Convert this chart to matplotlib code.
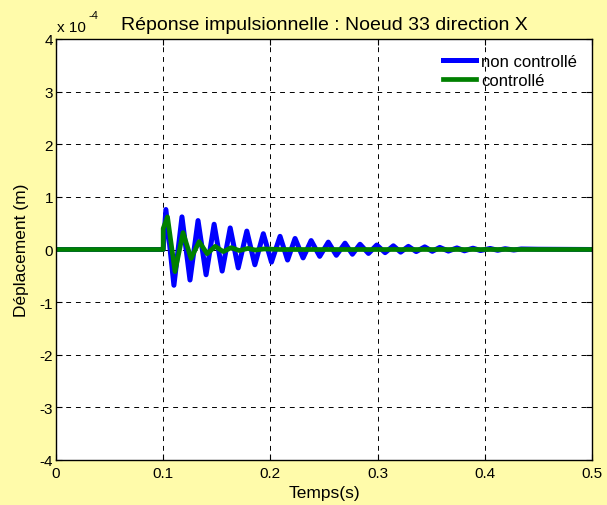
import matplotlib
matplotlib.use('Agg')
import matplotlib.pyplot as plt

# reponse non controllee : extremums (unite 1e-4 m)
t_nc = [0.0, 0.1000, 0.1025, 0.1100, 0.1175, 0.1250, 0.1325, 0.1400, 0.1475,
        0.1550, 0.1625, 0.1700, 0.1780, 0.1855, 0.1934, 0.2010, 0.2090,
        0.2160, 0.2230, 0.2305, 0.2380, 0.2460, 0.2540, 0.2615, 0.2696,
        0.2765, 0.2836, 0.2915, 0.2992, 0.3070, 0.3147, 0.3215, 0.3287,
        0.3360, 0.3440, 0.3510, 0.3580, 0.3660, 0.3740, 0.3810, 0.3890,
        0.3960, 0.4050, 0.4120, 0.4190, 0.4270, 0.4340, 0.4500, 0.5000]
y_nc = [0.0, 0.0, 0.76, -0.68, 0.62, -0.58, 0.55, -0.48, 0.48,
        -0.41, 0.41, -0.35, 0.35, -0.29, 0.30, -0.24, 0.25,
        -0.20, 0.21, -0.16, 0.17, -0.13, 0.14, -0.11, 0.12,
        -0.09, 0.10, -0.075, 0.085, -0.06, 0.07, -0.05, 0.06,
        -0.04, 0.05, -0.035, 0.04, -0.03, 0.03, -0.025, 0.025,
        -0.02, 0.02, -0.015, 0.015, -0.01, 0.01, 0.005, 0.0]

# reponse controllee
t_c = [0.0, 0.1000, 0.1000, 0.1040, 0.1110, 0.1185, 0.1260, 0.1335, 0.1410,
       0.1485, 0.1560, 0.1635, 0.1710, 0.1790, 0.1860, 0.1940, 0.2100, 0.5000]
y_c = [0.0, 0.0, 0.40, 0.62, -0.42, 0.32, -0.17, 0.15, -0.08,
       0.06, -0.04, 0.035, -0.02, 0.02, -0.01, 0.01, 0.0, 0.0]

x_ticks = [0, 0.1, 0.2, 0.3, 0.4, 0.5]
y_ticks = [-4, -3, -2, -1, 0, 1, 2, 3, 4]

plt.rcParams['font.family'] = ['Liberation Sans', 'DejaVu Sans']

fig = plt.figure(figsize=(6.07, 5.06), dpi=100, facecolor='#FFFBAA')
ax = fig.add_axes([56 / 607, 1 - 461 / 506, 536 / 607, 421 / 506])

ax.plot(t_nc, y_nc, color='#0000FF', lw=3.6, label='non controllé')
ax.plot(t_c, y_c, color='#008000', lw=3.4, label='controllé')

ax.set_xlim(0, 0.5)
ax.set_ylim(-4, 4)
ax.set_xticks(x_ticks)
ax.set_xticklabels([f'{v:g}' for v in x_ticks])
ax.set_yticks(y_ticks)
ax.set_yticklabels([str(v) for v in y_ticks])
ax.tick_params(direction='in', top=True, right=True, labelsize=11, length=4)
ax.tick_params(axis='x', pad=4)
ax.tick_params(axis='y', pad=2)
ax.grid(True, color='black', linestyle=(0, (5, 5)), linewidth=0.7)
for s in ax.spines.values():
    s.set_linewidth(1.0)

ax.set_title('Réponse impulsionnelle : Noeud 33 direction X', fontsize=14, pad=7)
ax.set_xlabel('Temps(s)', fontsize=12.5, labelpad=4)
ax.set_ylabel('Déplacement (m)', fontsize=12.5, labelpad=8)

# multiplicateur de l'axe y
ax.text(0.002, 1.012, 'x 10', transform=ax.transAxes, fontsize=11,
        ha='left', va='bottom')
ax.text(0.06, 1.045, '-4', transform=ax.transAxes, fontsize=8,
        ha='left', va='bottom')

ax.legend(loc='upper right', frameon=False, fontsize=12, handlelength=2.0,
          handletextpad=0.3, labelspacing=0.25, borderaxespad=0.5)

fig.savefig('out.png', dpi=100, facecolor=fig.get_facecolor())
